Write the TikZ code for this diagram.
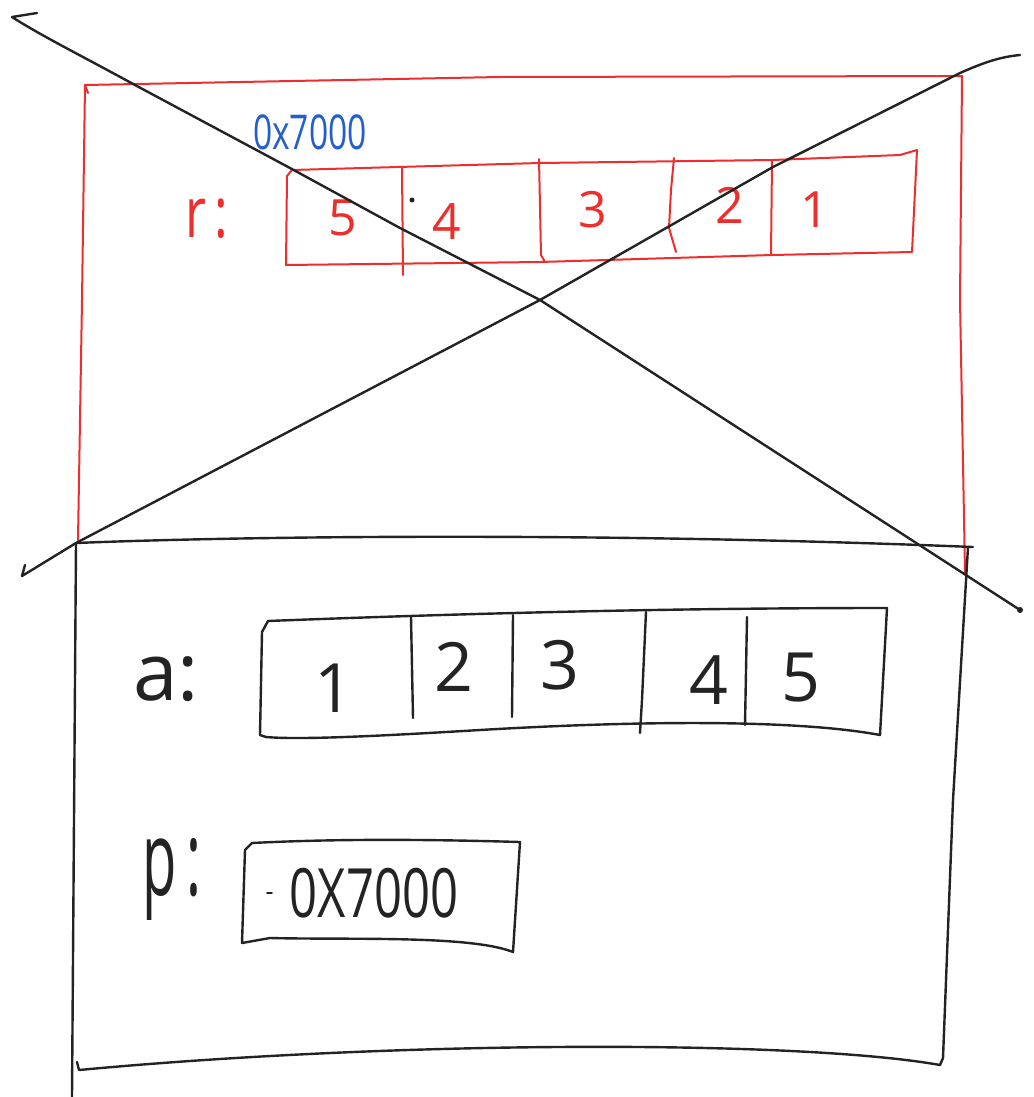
\documentclass[tikz,border=0pt]{standalone}
\usepackage{fontspec}
\setmainfont{Open Sans}
\definecolor{penred}{RGB}{238,45,45}
\definecolor{penblue}{RGB}{35,95,205}
\definecolor{penblack}{RGB}{35,35,35}
\begin{document}
\begin{tikzpicture}[x=0.5pt,y=-0.5pt, line cap=round, line join=round,
  redline/.style={draw=penred, line width=1pt},
  blkline/.style={draw=penblack, line width=1.2pt},
  xline/.style={draw=penblack, line width=1.2pt},
  rednum/.style={text=penred, font=\fontsize{25}{30}\selectfont, inner sep=0pt},
  blknum/.style={text=penblack, font=\fontsize{34}{40}\selectfont, inner sep=0pt},
  lbl/.style={inner sep=0pt, anchor=base}]
\useasboundingbox (0,0) rectangle (1033,1097);
\fill[white] (0,0) rectangle (1033,1097);

% red frame
\draw[redline] (88,93) -- (85,85) -- (500,77) -- (962,76) -- (960,300) -- (965,573);
\draw[redline] (85,85) -- (82,300) -- (78,540);
% red array
\draw[redline] (292,170) -- (287,176) -- (286,265) -- (540,262) -- (772,255) -- (912,252) -- (917,150) -- (900,155) -- (773,160) -- (540,163) -- (292,170);
\draw[redline] (402,168) -- (403,275);
\draw[redline] (539,159) -- (541,255) -- (545,262);
\draw[redline] (674,158) -- (671,190) -- (669,228) -- (676,252);
\draw[redline] (772,160) -- (771,255);
\node[rednum] (r5) at (343,218) {5};
\node[rednum] (r4) at (447,222) {4};
\node[rednum] (r3) at (593,210) {3};
\node[rednum] (r2) at (730,205) {2};
\node[rednum] (r1) at (815,210) {1};
\node[lbl, text=penred, font=\fontsize{32}{36}\selectfont] (rlbl) at (207,237) {\scalebox{0.8}[1.1]{r\,:}};
\fill[penblack] (412,200) circle (2.5);
% blue address
\node[inner sep=0pt, text=penblue, font=\fontsize{24}{28}\selectfont] (addr) at (310,132) {\scalebox{0.7}[1]{0x7000}};

% black frame
\draw[blkline] (76,543) .. controls (250,536) and (600,532) .. (973,547);
\draw[blkline] (968,547) -- (953,800) -- (943,1058) -- (940,1065);
\draw[blkline] (940,1065) .. controls (800,1040) and (400,1040) .. (79,1070) -- (77,1062);
\draw[blkline] (76,543) -- (72,1097);

% black array a
\draw[blkline] (262,632) -- (268,621) .. controls (500,612) and (700,608) .. (887,608) -- (880,735)
  .. controls (800,720) and (650,720) .. (480,730) .. controls (380,736) and (300,740) .. (266,737) -- (260,735) -- (262,632);
\draw[blkline] (411,617) -- (413,718);
\draw[blkline] (513,615) -- (512,717);
\draw[blkline] (646,612) -- (642,700) -- (640,733);
\draw[blkline] (747,617) -- (745,725);
\node[blknum] (a1) at (334,688) {1};
\node[blknum] (a2) at (454,667) {2};
\node[blknum] (a3) at (560,665) {3};
\node[blknum] (a4) at (709,680) {4};
\node[blknum] (a5) at (801,678) {5};
\node[lbl, text=penblack, font=\fontsize{40}{44}\selectfont] (albl) at (166,700) {a:};

% pointer p
\draw[blkline] (245,850) -- (252,843) .. controls (350,838) and (450,840) .. (520,842) -- (513,952)
  .. controls (470,935) and (350,940) .. (270,938) -- (242,943) -- (245,850);
\node[inner sep=0pt, text=penblack, font=\fontsize{34}{40}\selectfont] (pval) at (374,893) {\scalebox{0.72}[1]{0X7000}};
\draw[blkline, line width=0.8pt] (267,893) -- (272,893);
\node[lbl, text=penblack, font=\fontsize{40}{44}\selectfont] (plbl) at (172,895) {\scalebox{0.7}[1.3]{p\,:}};

% cross
\draw[xline] (37,13) -- (12,17) .. controls (40,35) and (80,55) .. (135,85) -- (290,168) -- (400,228) -- (540,300) -- (1020,610);
\fill[penblack] (1020,610) circle (3);
\draw[xline] (25,565) -- (22,576) -- (76,543) -- (540,300) -- (773,167) -- (960,73) .. controls (985,62) and (1000,57) .. (1020,55);
\end{tikzpicture}
\end{document}
